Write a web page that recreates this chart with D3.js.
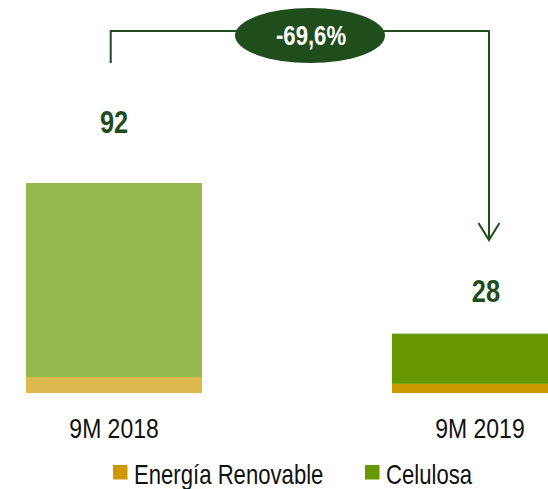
<!DOCTYPE html>
<html>
<head>
<meta charset="utf-8">
<script src="https://cdn.jsdelivr.net/npm/d3@7"></script>
<style>
  body { margin: 0; background: #fff; }
  svg { display: block; }
  text { font-family: "Arial Narrow", "Liberation Sans", Arial, sans-serif; }
</style>
</head>
<body>
<div id="chart"></div>
<script>
// data
const periods = ["9M 2018", "9M 2019"];
const segments = ["Energía Renovable", "Celulosa"];
const energia = [7, 4];
const celulosa = [85, 22];
const totals = ["92", "28"];
const changeLabel = "-69,6%";

const colors = { "Energía Renovable": "#CC9900", "Celulosa": "#669900" };
const darkGreen = "#1F4D1C";
const narrow = 0.82; // Arial Narrow is not installed, squeeze Liberation Sans instead

const width = 548, height = 489;

const svg = d3.select("#chart")
  .append("svg")
  .attr("width", width)
  .attr("height", height);

const xScale = d3.scaleBand()
  .domain(periods)
  .range([26, 568])
  .paddingInner(0.519)
  .paddingOuter(0);

const yScale = d3.scaleLinear()
  .domain([0, 92])
  .range([393, 183]);

const rows = periods.map((p, i) => ({ period: p, "Energía Renovable": energia[i], "Celulosa": celulosa[i] }));
const stacked = d3.stack().keys(segments)(rows);

svg.append("g")
  .selectAll("g")
  .data(stacked)
  .join("g")
  .attr("fill", d => colors[d.key])
  .selectAll("rect")
  .data(d => d)
  .join("rect")
  .attr("x", d => xScale(d.data.period))
  .attr("y", d => yScale(d[1]))
  .attr("width", xScale.bandwidth())
  .attr("height", d => yScale(d[0]) - yScale(d[1]))
  .attr("fill-opacity", (d, i) => i === 0 ? 0.69 : 1);

const at = (x, y) => `translate(${x},${y}) scale(${narrow},1)`;

// category labels
svg.append("g")
  .selectAll("text")
  .data(periods)
  .join("text")
  .attr("transform", d => at(xScale(d) + xScale.bandwidth() / 2, 438))
  .attr("text-anchor", "middle")
  .attr("font-size", 28)
  .attr("fill", "#111")
  .text(d => d);

// total labels
const labelY = [133, 302];
const labelDx = [0, 6];
svg.append("g")
  .selectAll("text")
  .data(totals)
  .join("text")
  .attr("transform", (d, i) => at(xScale(periods[i]) + xScale.bandwidth() / 2 + labelDx[i], labelY[i]))
  .attr("text-anchor", "middle")
  .attr("font-size", 31)
  .attr("font-weight", "bold")
  .attr("fill", darkGreen)
  .text(d => d);

// connector arrow
const xLeft = xScale(periods[0]) + xScale.bandwidth() / 2 - 3.3;
const xRight = xScale(periods[1]) + xScale.bandwidth() / 2 + 9;
const topY = 31;

svg.append("path")
  .attr("d", `M${xLeft},63 V${topY} H${xRight} V240`)
  .attr("fill", "none")
  .attr("stroke", darkGreen)
  .attr("stroke-width", 2);

svg.append("path")
  .attr("d", `M${xRight - 10.5},223 L${xRight},240 L${xRight + 10.5},223`)
  .attr("fill", "none")
  .attr("stroke", darkGreen)
  .attr("stroke-width", 2);

svg.append("ellipse")
  .attr("cx", 310)
  .attr("cy", 35.5)
  .attr("rx", 75)
  .attr("ry", 27.5)
  .attr("fill", darkGreen);

svg.append("text")
  .attr("transform", at(311, 45))
  .attr("text-anchor", "middle")
  .attr("font-size", 27)
  .attr("font-weight", "bold")
  .attr("fill", "#fff")
  .text(changeLabel);

// legend
const legendX = [113, 365];
const legend = svg.append("g")
  .selectAll("g")
  .data(segments)
  .join("g")
  .attr("transform", (d, i) => `translate(${legendX[i]}, 465)`);

legend.append("rect")
  .attr("width", 14.5)
  .attr("height", 14.5)
  .attr("fill", d => colors[d]);

legend.append("text")
  .attr("transform", at(21, 19))
  .attr("font-size", 27)
  .attr("fill", "#111")
  .text(d => d);
</script>
</body>
</html>
